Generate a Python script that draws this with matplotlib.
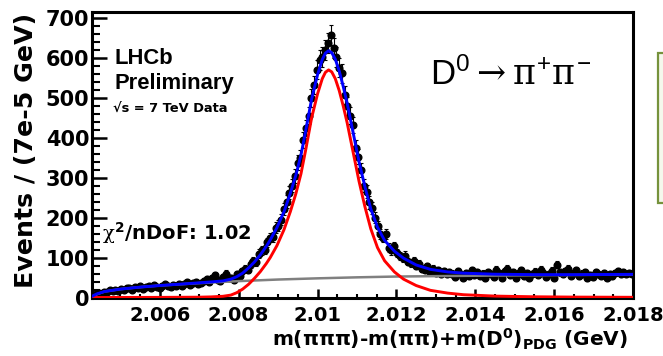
import numpy as np
import matplotlib
matplotlib.use("Agg")
import matplotlib.pyplot as plt
from matplotlib.patches import Rectangle
from matplotlib.ticker import MultipleLocator, FixedLocator

plt.rcParams['mathtext.fontset'] = 'custom'
plt.rcParams['mathtext.rm'] = 'DejaVu Serif'
plt.rcParams['mathtext.it'] = 'DejaVu Serif'
plt.rcParams['mathtext.bf'] = 'DejaVu Sans:bold'
plt.rcParams['mathtext.sf'] = 'Liberation Sans'

# ---- data ----
bin_lo = 2.00428
bin_width = 0.00007
counts = [5, 8, 12, 10, 15, 14, 18, 16, 20, 17,
          22, 19, 25, 23, 20, 27, 24, 28, 22, 26,
          29, 25, 31, 27, 24, 30, 33, 28, 26, 32,
          30, 35, 28, 34, 38, 31, 36, 40, 33, 37,
          42, 47, 39, 50, 56, 44, 41, 52, 60, 48,
          50, 45, 58, 54, 66, 72, 70, 84, 92, 89,
          110, 118, 120, 138, 150, 152, 175, 180, 195, 222,
          240, 262, 280, 305, 338, 350, 395, 425, 455, 500,
          532, 570, 595, 602, 620, 637, 657, 625, 603, 575,
          562, 507, 480, 455, 432, 375, 352, 320, 280, 265,
          238, 225, 200, 178, 160, 150, 158, 125, 118, 128,
          112, 103, 98, 105, 90, 86, 92, 80, 84, 72,
          70, 78, 65, 72, 62, 68, 58, 66, 60, 63,
          60, 52, 66, 58, 50, 62, 54, 68, 57, 63,
          55, 60, 48, 64, 58, 52, 70, 61, 50, 66,
          72, 57, 63, 49, 60, 68, 54, 62, 50, 58,
          65, 56, 70, 61, 52, 59, 67, 50, 82, 63,
          58, 66, 72, 55, 62, 68, 53, 60, 64, 49,
          57, 52, 63, 59, 55, 61, 50, 58, 54, 62,
          66, 60, 64, 58, 62, 60]

sig_x = [2.00428, 2.00600, 2.00700, 2.00730, 2.00760, 2.00780, 2.00795, 2.00810, 2.00825,
         2.00840, 2.00855, 2.00870, 2.00880, 2.00897, 2.00915, 2.00931, 2.00945, 2.00958,
         2.00970, 2.00985, 2.01000, 2.01012, 2.01020, 2.01028, 2.01036, 2.01045, 2.01055,
         2.01065, 2.01075, 2.01090, 2.01105, 2.01120, 2.01135, 2.01152, 2.01170, 2.01195,
         2.01218, 2.01250, 2.01286, 2.01330, 2.01370, 2.01450, 2.01550, 2.01650, 2.01800]
sig_y = [0.0, 0.3, 0.8, 1.5, 3, 6, 12, 21, 33, 48, 65, 85, 100, 130, 170, 215, 260, 310,
         370, 450, 510, 548, 564, 570, 565, 548, 518, 480, 438, 365, 292, 228, 172, 125,
         92, 64, 46, 30, 18, 11, 7, 3.5, 1.8, 1.0, 0.5]

bkg_x = [2.00428, 2.00440, 2.00460, 2.00500, 2.00550, 2.00600, 2.00650, 2.00700, 2.00750,
         2.00800, 2.00900, 2.01000, 2.01100, 2.01200, 2.01300, 2.01400, 2.01500, 2.01600,
         2.01700, 2.01800]
bkg_y = [0, 8, 15, 21, 26, 30, 33, 36, 38.5, 41, 45, 48, 50.5, 52.5, 53.5, 54.5, 55.3,
         56, 56.8, 57.5]

tot_x = [2.00428, 2.00440, 2.00460, 2.00500, 2.00550, 2.00600, 2.00650, 2.00700, 2.00730,
         2.00760, 2.00780, 2.00795, 2.00810, 2.00825, 2.00840, 2.00855, 2.00870, 2.00880,
         2.00897, 2.00915, 2.00931, 2.00945, 2.00958, 2.00970, 2.00985, 2.01000, 2.01012,
         2.01020, 2.01028, 2.01036, 2.01045, 2.01055, 2.01065, 2.01075, 2.01090, 2.01105,
         2.01120, 2.01135, 2.01152, 2.01170, 2.01195, 2.01218, 2.01250, 2.01286, 2.01330,
         2.01370, 2.01450, 2.01550, 2.01650, 2.01800]
tot_y = [3, 9, 15, 21, 26, 30, 33.3, 36.8, 39, 41.5, 46, 52, 61, 74, 89, 107, 128, 144,
         175, 215, 261, 306, 357, 418, 497, 558, 596, 612, 618, 613, 597, 567, 529, 487,
         414, 341, 278, 222, 176, 143, 116, 98.5, 81.5, 70.5, 64, 61, 58.3, 57.3, 57.2, 58]

x_ticks = [2.006, 2.008, 2.010, 2.012, 2.014, 2.016, 2.018]
x_tick_labels = ["2.006", "2.008", "2.01", "2.012", "2.014", "2.016", "2.018"]
y_ticks = [0, 100, 200, 300, 400, 500, 600, 700]

# ---- figure ----
W, H = 663, 356
fig = plt.figure(figsize=(W / 100, H / 100), dpi=100)
ax = fig.add_axes([92 / W, 1 - 297.5 / H, (633 - 92) / W, (297.5 - 12) / H])

centers = bin_lo + bin_width * (np.arange(len(counts)) + 0.5)
counts_arr = np.array(counts, dtype=float)
ax.errorbar(centers, counts_arr, yerr=np.sqrt(counts_arr), fmt='o', color='black',
            markersize=4.8, elinewidth=0.8, capsize=1.2, capthick=0.8, zorder=2)

ax.plot(bkg_x, bkg_y, color='#808080', lw=1.8, zorder=3)
ax.plot(sig_x, sig_y, color='#ff0000', lw=2.1, zorder=4)
ax.plot(tot_x, tot_y, color='#0000ff', lw=2.1, zorder=5)

ax.set_xlim(bin_lo, 2.018)
ax.set_ylim(0, 715)

for s in ax.spines.values():
    s.set_linewidth(2.2)

ax.xaxis.set_major_locator(FixedLocator(x_ticks))
ax.set_xticklabels(x_tick_labels)
ax.xaxis.set_minor_locator(MultipleLocator(0.0005))
ax.yaxis.set_major_locator(FixedLocator(y_ticks))
ax.yaxis.set_minor_locator(MultipleLocator(20))
ax.tick_params(axis='x', which='major', direction='in', length=6.5, width=1.8,
               labelsize=14, pad=6, top=False)
ax.tick_params(axis='x', which='minor', direction='in', length=3.2, width=1.5, top=False)
ax.tick_params(axis='y', which='major', direction='in', length=11, width=1.8,
               labelsize=15, pad=2, right=False)
ax.tick_params(axis='y', which='minor', direction='in', length=5.8, width=1.5, right=False)
for lab in ax.get_xticklabels() + ax.get_yticklabels():
    lab.set_fontweight('bold')
    lab.set_family('DejaVu Sans')

# axis titles
fig.text(26 / W, 1 - 13 / H, "Events / (7e-5 GeV)", rotation=90, ha='center', va='top',
         fontsize=18.2, fontweight='bold', family='DejaVu Sans')
fig.text(628 / W, 10 / H,
         "m(πππ)-m(ππ)+m(D$^{\\mathbf{0}}$)$_{\\mathbf{PDG}}$ (GeV)",
         ha='right', va='baseline', fontsize=14.5, fontweight='bold', family='DejaVu Sans')

# annotations
fig.text(115 / W, 1 - 64.5 / H, "LHCb", ha='left', va='baseline', fontsize=15.8,
         fontweight='bold', family='Liberation Sans')
fig.text(115 / W, 1 - 89 / H, "Preliminary", ha='left', va='baseline', fontsize=15.8,
         fontweight='bold', family='Liberation Sans')
fig.text(113 / W, 1 - 112.5 / H, "√s = 7 TeV Data", ha='left',
         va='baseline', fontsize=9.4, fontweight='bold', family='DejaVu Sans')
fig.text(102 / W, 1 - 240 / H, r"$\chi^{\mathbf{2}}$/nDoF: 1.02", ha='left',
         va='baseline', fontsize=14, fontweight='bold', family='DejaVu Sans')
fig.text(430 / W, 1 - 85 / H,
         r"D$^{\mathsf{0}}$$\rightarrow$$\pi^{\mathsf{+}}\pi^{\mathsf{-}}$",
         ha='left', va='baseline', fontsize=25, family='Liberation Sans')

# partial legend box at right edge
fig.patches.append(Rectangle((658 / W, 1 - 203 / H), 20 / W, 150 / H,
                             transform=fig.transFigure, facecolor='#f4f8ec',
                             edgecolor='#76923c', linewidth=1.6))

fig.savefig("out.png", dpi=100)
